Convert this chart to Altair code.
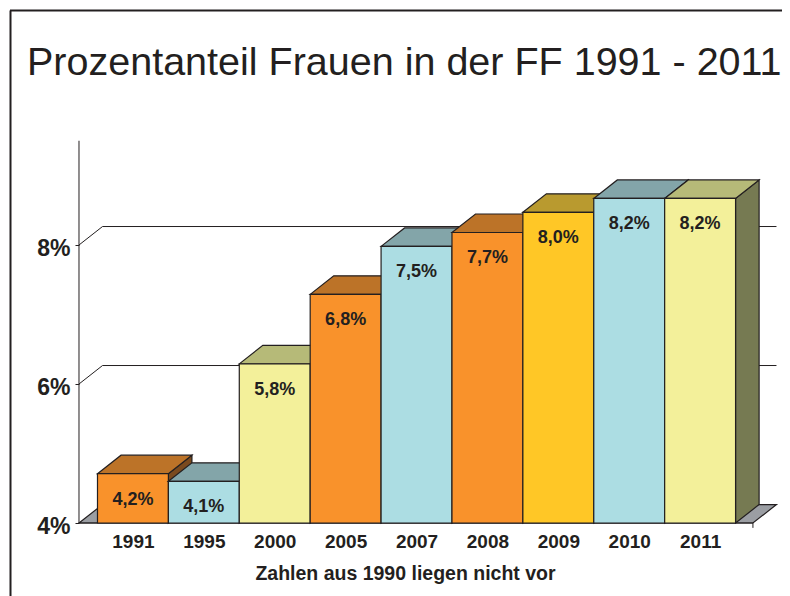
import altair as alt
import pandas as pd

years = ["1991", "1995", "2000", "2005", "2007", "2008", "2009", "2010", "2011"]
labels = ["4,2%", "4,1%", "5,8%", "6,8%", "7,5%", "7,7%", "8,0%", "8,2%", "8,2%"]
heights = [4.71, 4.60, 6.29, 7.29, 7.98, 8.18, 8.47, 8.67, 8.67]
front = ["#F9922B", "#ACDDE3", "#F3F09A", "#F9922B", "#ACDDE3", "#F9922B", "#FFC726", "#ACDDE3", "#F3F09A"]
top = ["#BC7328", "#83A5A9", "#B6BA78", "#BC7328", "#83A5A9", "#BC7328", "#B99A2F", "#83A5A9", "#B6BA78"]
side = ["#7A4A1E", "#5F7A7E", "#767A52", "#7A4A1E", "#5F7A7E", "#7A4A1E", "#87701F", "#5F7A7E", "#767A52"]
y_ticks = [4, 6, 8]

INK = "#231F20"
FONT = "Liberation Sans"
DX, DY = 0.332, 0.266          # depth of the 3D effect, in scale units
BASE = 4
X0, X1 = -0.261, 9.245         # ends of the floor
Y_TOP = 9.5                    # top of the value axis

xs = alt.Scale(domain=[-1.2623, 9.655], range=[0, 774], nice=False, zero=False)
ys = alt.Scale(domain=[2.95, 11.41], range=[588, 0], nice=False, zero=False)


def X(field="x", **kw):
    kw.setdefault("axis", None)
    return alt.X(f"{field}:Q", scale=xs, **kw)


def Y(field="y", **kw):
    kw.setdefault("axis", None)
    return alt.Y(f"{field}:Q", scale=ys, **kw)


def area(rows, fill):
    df = pd.DataFrame(rows, columns=["x", "y", "y2"])
    return alt.Chart(df).mark_area(fill=fill, stroke=INK, strokeWidth=1.2, opacity=1).encode(
        x=X(), y=Y(), y2=alt.Y2("y2:Q"))


def rule(rows, **mk):
    df = pd.DataFrame(rows, columns=["x", "y"])
    return alt.Chart(df).mark_line(color=INK, strokeWidth=1, **mk).encode(
        x=X(), y=Y(), order="i:Q").transform_window(i="row_number()")


layers = []

# real axes, moved onto the base line
axes_df = pd.DataFrame({"x": [i + 0.5 for i in range(len(years))], "y": [BASE] * len(years)})
year_array = "[" + ",".join(f"'{y}'" for y in years) + "]"
layers.append(alt.Chart(axes_df).mark_point(opacity=0).encode(
    x=alt.X("x:Q", scale=xs, title="Zahlen aus 1990 liegen nicht vor", axis=alt.Axis(
        values=[i + 0.5 for i in range(len(years))],
        labelExpr=f"{year_array}[round(datum.value - 0.5)]",
        offset=-65, domain=False, ticks=False, grid=False, labelOverlap=False, labelFlush=False,
        labelFont=FONT, labelFontSize=19, labelFontWeight="bold", labelColor=INK, labelPadding=1,
        titleFont=FONT, titleFontSize=19.5, titleFontWeight="bold", titleColor=INK,
        titleX=397, titleY=42, titleAlign="center", titleBaseline="middle")),
    y=alt.Y("y:Q", scale=ys, title=None, axis=alt.Axis(
        values=y_ticks, labelExpr="datum.value + '%'", offset=-71, domain=False, grid=False,
        tickSize=4, tickColor=INK, tickWidth=1, labelPadding=5, labelOffset=3,
        labelFont=FONT, labelFontSize=23, labelFontWeight="bold", labelColor=INK,
        labelBaseline="middle"))))

# frame
frame_df = pd.DataFrame({"a": [0]})
layers.append(alt.Chart(frame_df).mark_rule(color=INK, strokeWidth=2).encode(
    x=alt.value(2.5), y=alt.value(2.5), y2=alt.value(588)))
layers.append(alt.Chart(frame_df).mark_rule(color=INK, strokeWidth=2).encode(
    x=alt.value(2), x2=alt.value(774), y=alt.value(2.5)))

# floor
layers.append(area([[X0, BASE, BASE], [X0 + DX, BASE + DY, BASE], [X1, BASE + DY, BASE],
                    [X1 + DX, BASE + DY, BASE + DY]], "#9B9EA3"))

# back wall gridlines
for t in y_ticks[1:]:
    layers.append(rule([[X0, t], [X0 + DX, t + DY], [X1 + DX, t + DY]]))

# the value axis line, the base line, and the end tick
layers.append(rule([[X0, BASE], [X0, Y_TOP]]))
layers.append(rule([[X0, BASE], [X1, BASE]]))
layers.append(rule([[X1, BASE], [X1, BASE - 0.07]]))

# bars, left to right
for i, v in enumerate(heights):
    r = i + 1
    layers.append(area([[r, v, BASE], [r + DX, v + DY, BASE + DY]], side[i]))
    layers.append(area([[i, v, v], [i + DX, v + DY, v], [r, v + DY, v], [r + DX, v + DY, v + DY]], top[i]))
    rect = pd.DataFrame({"x": [i], "x2": [r], "y": [BASE], "y2": [v]})
    layers.append(alt.Chart(rect).mark_rect(fill=front[i], stroke=INK, strokeWidth=1.2).encode(
        x=X(), x2=alt.X2("x2:Q"), y=Y(), y2=alt.Y2("y2:Q")))

# bar labels
lab = pd.DataFrame({"x": [i + 0.5 for i in range(len(years))], "y": heights, "t": labels})
layers.append(alt.Chart(lab).mark_text(font=FONT, fontSize=18, fontWeight="bold", color=INK,
                                       baseline="middle", dy=26).encode(x=X(), y=Y(), text="t:N"))

chart = alt.layer(*layers).resolve_axis(x="independent", y="independent").properties(
    width=774, height=588, padding=0, autosize=alt.AutoSizeParams(type="none"),
    title=alt.TitleParams("Prozentanteil Frauen in der FF 1991 - 2011", anchor="start", frame="group",
                          font=FONT, fontSize=39.5, fontWeight="normal", color=INK, dx=19, dy=106,
                          baseline="alphabetic", offset=0),
).configure_view(stroke=None)

chart.save("out.html", embed_options={"renderer": "svg", "actions": False})
